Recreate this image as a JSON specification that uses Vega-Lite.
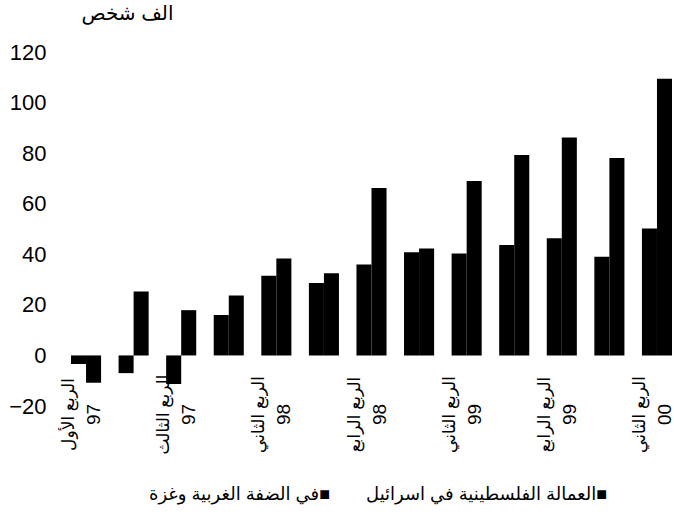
{
  "$schema": "https://vega.github.io/schema/vega-lite/v6.json",
  "autosize": {"type": "none"},
  "padding": {"left": 71, "top": 52, "right": 2, "bottom": 111},
  "width": 601,
  "height": 354,
  "background": "white",
  "config": {"view": {"stroke": null}, "font": "Liberation Sans, DejaVu Sans"},
  "data": {"values": [
    {"q": "الربع الأول 97", "s": "في الضفة الغربية وغزة", "v": -3.4},
    {"q": "الربع الأول 97", "s": "العمالة الفلسطينية في اسرائيل", "v": -10.8},
    {"q": "الربع الثاني 97", "s": "في الضفة الغربية وغزة", "v": -7},
    {"q": "الربع الثاني 97", "s": "العمالة الفلسطينية في اسرائيل", "v": 25.3},
    {"q": "الربع الثالث 97", "s": "في الضفة الغربية وغزة", "v": -11.3},
    {"q": "الربع الثالث 97", "s": "العمالة الفلسطينية في اسرائيل", "v": 17.9},
    {"q": "الربع الأول 98", "s": "في الضفة الغربية وغزة", "v": 16},
    {"q": "الربع الأول 98", "s": "العمالة الفلسطينية في اسرائيل", "v": 23.7},
    {"q": "الربع الثاني 98", "s": "في الضفة الغربية وغزة", "v": 31.5},
    {"q": "الربع الثاني 98", "s": "العمالة الفلسطينية في اسرائيل", "v": 38.3},
    {"q": "الربع الثالث 98", "s": "في الضفة الغربية وغزة", "v": 28.6},
    {"q": "الربع الثالث 98", "s": "العمالة الفلسطينية في اسرائيل", "v": 32.5},
    {"q": "الربع الرابع 98", "s": "في الضفة الغربية وغزة", "v": 36},
    {"q": "الربع الرابع 98", "s": "العمالة الفلسطينية في اسرائيل", "v": 66.2},
    {"q": "الربع الأول 99", "s": "في الضفة الغربية وغزة", "v": 40.8},
    {"q": "الربع الأول 99", "s": "العمالة الفلسطينية في اسرائيل", "v": 42.3},
    {"q": "الربع الثاني 99", "s": "في الضفة الغربية وغزة", "v": 40.3},
    {"q": "الربع الثاني 99", "s": "العمالة الفلسطينية في اسرائيل", "v": 69},
    {"q": "الربع الثالث 99", "s": "في الضفة الغربية وغزة", "v": 43.7},
    {"q": "الربع الثالث 99", "s": "العمالة الفلسطينية في اسرائيل", "v": 79.3},
    {"q": "الربع الرابع 99", "s": "في الضفة الغربية وغزة", "v": 46.3},
    {"q": "الربع الرابع 99", "s": "العمالة الفلسطينية في اسرائيل", "v": 86.2},
    {"q": "الربع الأول 00", "s": "في الضفة الغربية وغزة", "v": 39},
    {"q": "الربع الأول 00", "s": "العمالة الفلسطينية في اسرائيل", "v": 78.1},
    {"q": "الربع الثاني 00", "s": "في الضفة الغربية وغزة", "v": 50.2},
    {"q": "الربع الثاني 00", "s": "العمالة الفلسطينية في اسرائيل", "v": 109.4}
  ]},
  "encoding": {
    "y": {
      "field": "v", "type": "quantitative",
      "scale": {"domain": [-20, 120], "nice": false},
      "axis": {
        "title": "الف شخص", "titleAngle": 0, "titleX": 102, "titleY": -39,
        "titleAlign": "right", "titleBaseline": "middle", "titleFontSize": 20,
        "titleFontWeight": "normal", "titleColor": "black",
        "domain": false, "ticks": false, "grid": false,
        "labelFontSize": 22, "labelPadding": 25, "labelColor": "black",
        "values": [-20, 0, 20, 40, 60, 80, 100, 120]
      }
    }
  },
  "layer": [
    {
      "mark": {"type": "bar", "color": "black"},
      "encoding": {
        "x": {
          "field": "q", "type": "nominal", "sort": null,
          "scale": {"paddingInner": 0.368, "paddingOuter": 0},
          "axis": {
            "orient": "bottom", "title": null, "domain": false, "ticks": false,
            "labelAngle": -90, "labelAlign": "center", "labelBaseline": "middle",
            "labelFontSize": 17, "labelPadding": 0,
            "offset": 8, "labelOffset": -17, "labelColor": "black",
            "labelOverlap": false, "labelBound": false, "labelFlush": false, "labelLimit": 300,
            "labelExpr": "slice(datum.label, 0, -3)",
            "values": ["الربع الأول 97", "الربع الثالث 97", "الربع الثاني 98", "الربع الرابع 98", "الربع الثاني 99", "الربع الرابع 99", "الربع الثاني 00"]
          }
        },
        "xOffset": {
          "field": "s", "type": "nominal",
          "scale": {"domain": ["في الضفة الغربية وغزة", "العمالة الفلسطينية في اسرائيل"], "paddingInner": 0, "paddingOuter": 0}
        },
        "color": {
          "field": "s", "type": "nominal",
          "scale": {"domain": ["في الضفة الغربية وغزة", "العمالة الفلسطينية في اسرائيل"], "range": ["#000000", "#000000"]},
          "legend": {
            "orient": "none", "legendX": 60, "legendY": 434, "direction": "horizontal",
            "title": null, "symbolSize": 0, "symbolOpacity": 0, "symbolStrokeWidth": 0,
            "labelOffset": 0, "labelFontSize": 18, "labelColor": "black", "labelLimit": 400,
            "columnPadding": 18,
            "labelExpr": "datum.label + '■'"
          }
        }
      }
    },
    {
      "mark": {"type": "bar", "opacity": 0},
      "encoding": {
        "x": {
          "field": "q", "type": "nominal", "sort": null,
          "axis": {
            "orient": "bottom", "title": null, "domain": false, "ticks": false,
            "labelAngle": -90, "labelAlign": "center", "labelBaseline": "middle",
            "labelFontSize": 19, "labelPadding": 0,
            "offset": 8, "labelOffset": 8, "labelColor": "black",
            "labelOverlap": false, "labelBound": false, "labelFlush": false, "labelLimit": 300,
            "labelExpr": "slice(datum.label, -2)",
            "values": ["الربع الأول 97", "الربع الثالث 97", "الربع الثاني 98", "الربع الرابع 98", "الربع الثاني 99", "الربع الرابع 99", "الربع الثاني 00"]
          }
        }
      }
    }
  ],
  "resolve": {"axis": {"x": "independent"}}
}
